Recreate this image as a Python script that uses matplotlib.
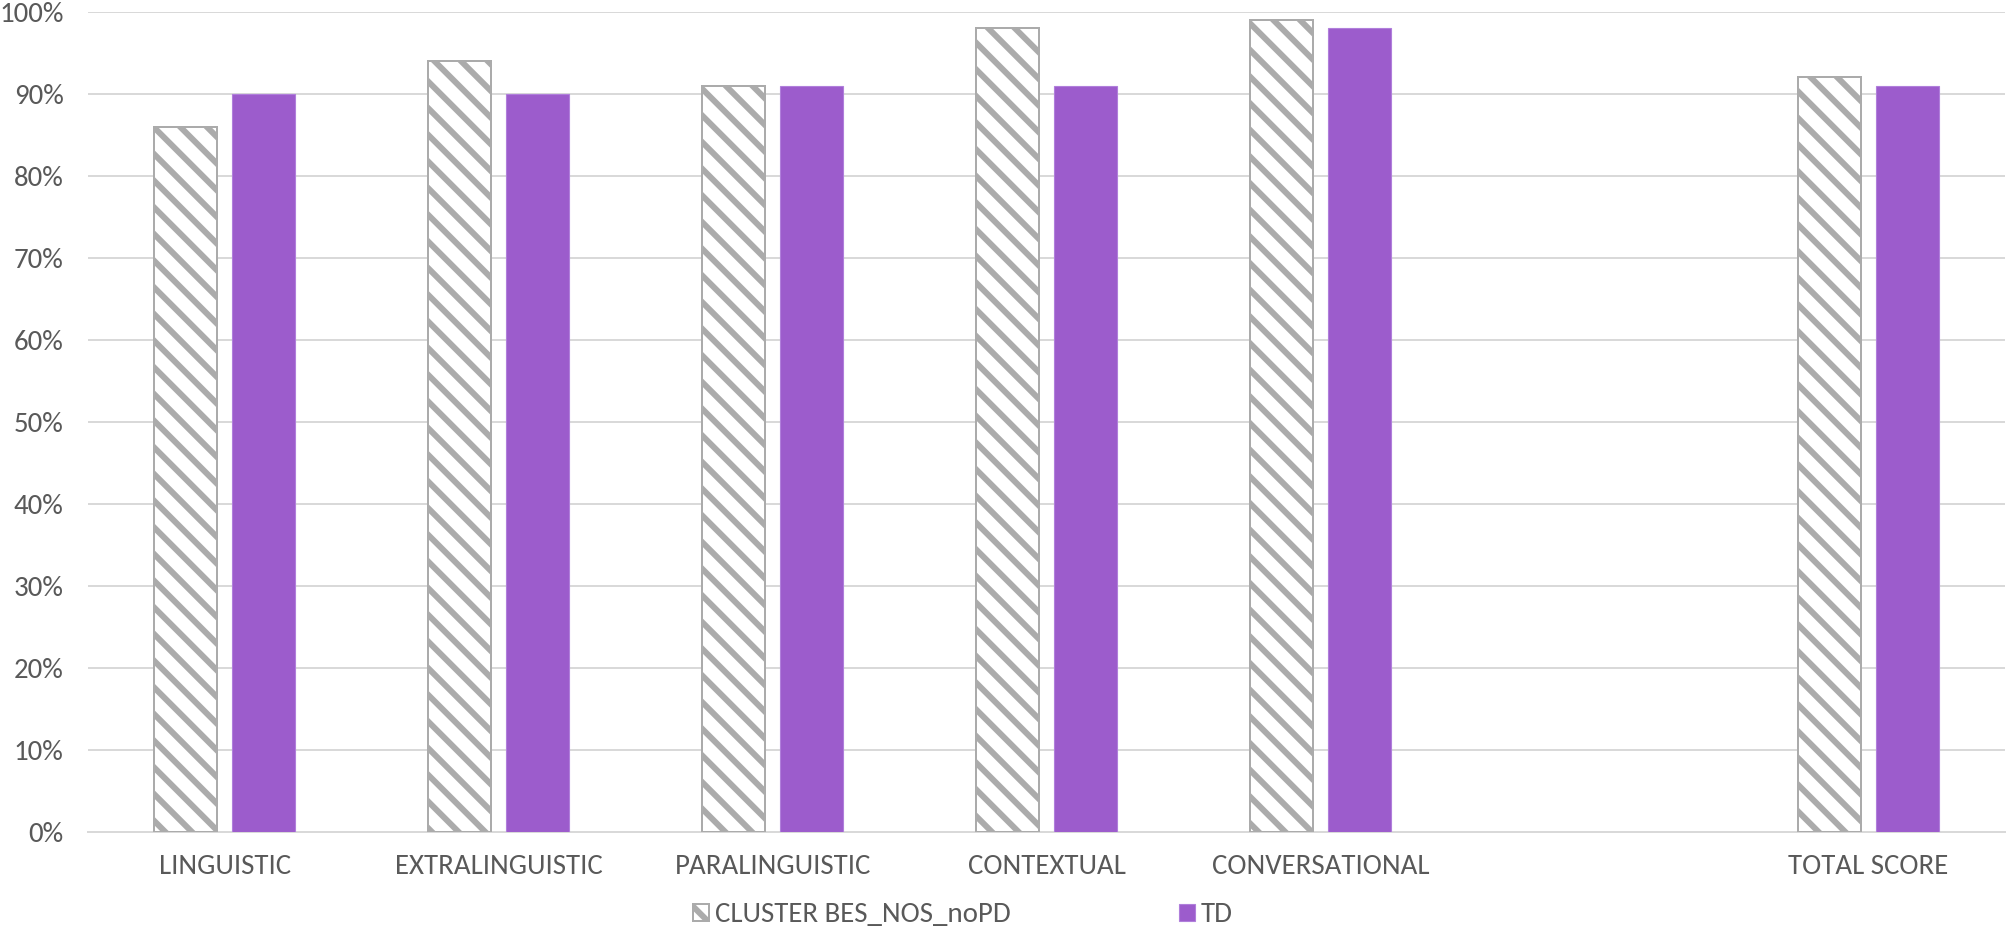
import numpy as np
import matplotlib
matplotlib.use("Agg")
import matplotlib.pyplot as plt
from matplotlib.ticker import PercentFormatter

# ==========================================
# data
# ==========================================
categories = ["LINGUISTIC", "EXTRALINGUISTIC", "PARALINGUISTIC", "CONTEXTUAL",
              "CONVERSATIONAL", "", "TOTAL SCORE"]
cluster_vals = [86, 94, 91, 98, 99, np.nan, 92]
td_vals = [90, 90, 91, 91, 98, np.nan, 91]
series_names = ["CLUSTER BES_NOS_noPD", "TD"]

# ==========================================
# style
# ==========================================
DPI = 160
W, H = 2008, 927
plt.rcParams['font.family'] = ['Carlito', 'Liberation Sans Narrow', 'DejaVu Sans']
plt.rcParams['hatch.linewidth'] = 2.7

text_col = '#595959'
grid_col = '#D9D9D9'
hatch_col = '#ABABAB'
purple = '#9C5CCC'
fs = 13

fig = plt.figure(figsize=(W / DPI, H / DPI), dpi=DPI)
ax = fig.add_axes([88 / W, (H - 832) / H, (2005 - 88) / W, (832 - 11.7) / H])

x = np.arange(len(categories))
bw = 0.23
off = 0.1425

b1 = ax.bar(x - off, cluster_vals, bw, facecolor='white', edgecolor=hatch_col,
            hatch='\\\\', linewidth=0.9, label=series_names[0], zorder=3)
b2 = ax.bar(x + off, td_vals, bw, color=purple, edgecolor='#B07FDB',
            linewidth=0.5, label=series_names[1], zorder=3)

ax.set_xlim(-0.5, len(categories) - 0.5)
ax.set_ylim(0, 100)
ax.set_yticks(np.arange(0, 101, 10))
ax.yaxis.set_major_formatter(PercentFormatter(decimals=0))
ax.set_xticks(x)
ax.set_xticklabels(categories)

ax.grid(axis='y', color=grid_col, linewidth=0.9, zorder=0)
for s in ['top', 'right', 'left']:
    ax.spines[s].set_visible(False)
ax.spines['bottom'].set_color(grid_col)
ax.spines['bottom'].set_linewidth(0.9)

ax.tick_params(axis='both', length=0, labelsize=fs, labelcolor=text_col)
ax.tick_params(axis='y', pad=11)
ax.tick_params(axis='x', pad=10)

leg = fig.legend(handles=[b1, b2], loc='center', ncol=2, frameon=False,
                 bbox_to_anchor=(963 / W, 1 - 915 / H), fontsize=fs,
                 handlelength=0.55, handleheight=0.55, handletextpad=0.2,
                 columnspacing=5.85, labelcolor=text_col)

fig.savefig('out.png', dpi=DPI)
